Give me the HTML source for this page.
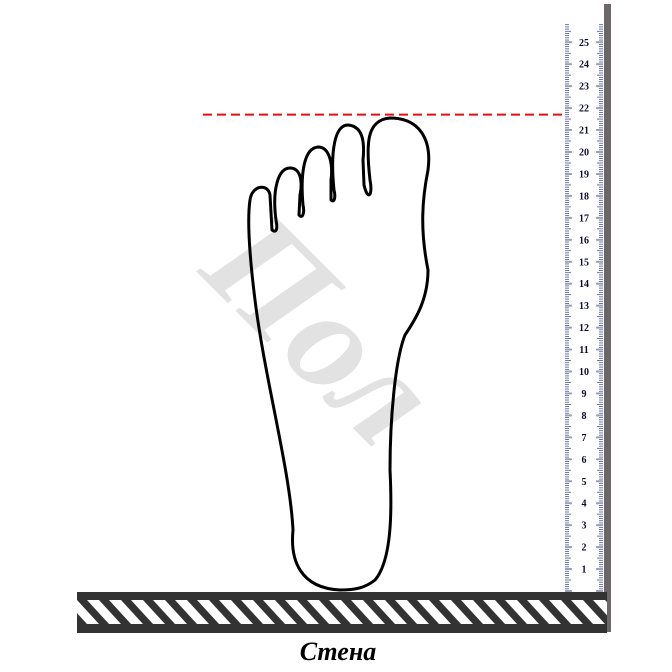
<!DOCTYPE html>
<html><head><meta charset="utf-8"><style>
html,body{margin:0;padding:0;background:#fff;width:672px;height:672px;overflow:hidden}
svg{display:block}
</style></head><body>
<svg id="chart" width="672" height="672" viewBox="0 0 672 672">
  <text x="305" y="370" transform="rotate(45 305 345)" text-anchor="middle" font-family="'Liberation Serif',serif" font-style="italic" font-weight="bold" font-size="145" fill="#e2e2e2">Пол</text>
  <rect x="604" y="4" width="7" height="628" fill="#6b6668"/>
  <g id="ruler"></g>
  <line id="redline" x1="203" x2="563" stroke="#e01010" stroke-width="2" stroke-dasharray="9,5"/>
  <path d="M340,590 C300,588 290,560 293,530 C290,470 265,380 255,300 C250,260 247,220 250,200 C252,185 268,183 270,195 L272,230 C276,233 278,230 276,220 C272,190 278,168 290,168 C300,168 303,180 300,195 L299,215 C302,219 305,214 303,205 C300,170 305,148 318,147 C330,147 333,165 331,180 L331,200 C334,203 336,198 334,190 C330,150 335,125 348,125 C362,126 365,140 363,160 L364,185 C368,202 373,195 370,180 C366,145 366,120 390,118 C420,118 432,140 428,170 C422,200 420,230 428,270 C428,300 415,320 405,335 C395,360 390,420 390,470 C392,510 392,560 375,580 C365,588 355,590 340,590 Z" fill="none" stroke="#000" stroke-width="3" stroke-linejoin="round"/>
  <defs><pattern id="hatch" width="22" height="24" patternUnits="userSpaceOnUse" patternTransform="translate(77,600)">
    <rect width="22" height="24" fill="#fff"/>
    <path d="M0,0 L10,0 L32,24 L22,24 Z M-22,0 L-12,0 L10,24 L0,24 Z" fill="#333"/>
  </pattern></defs>
  <g>
    <rect x="77" y="592" width="530" height="8" fill="#333"/>
    <rect x="77" y="600" width="530" height="24" fill="url(#hatch)"/>
    <rect x="77" y="624" width="530" height="9" fill="#333"/>
  </g>
  <text x="338" y="660" text-anchor="middle" font-family="'Liberation Serif',serif" font-style="italic" font-weight="bold" font-size="26" fill="#000">Стена</text>
</svg>
<script>
const cmLabels=[1,2,3,4,5,6,7,8,9,10,11,12,13,14,15,16,17,18,19,20,21,22,23,24,25];
const footLength=[21.7];
const y0=591, pxPerCm=21.95;
const yScale=v=>y0-v*pxPerCm;
const ns="http://www.w3.org/2000/svg";
const g=document.getElementById('ruler');
for(let mm=0;mm<=258;mm++){
  const y=yScale(mm/10);
  const len=mm%10===0?7:(mm%5===0?6:4);
  [[565,565+len],[603-len,603]].forEach(([a,b])=>{
    const l=document.createElementNS(ns,'line');
    l.setAttribute('x1',a);l.setAttribute('x2',b);l.setAttribute('y1',y);l.setAttribute('y2',y);
    l.setAttribute('stroke',mm%10===0?'#9aa0bb':'#4a5590');l.setAttribute('stroke-width',mm%10===0?2:0.8);
    
    
    g.appendChild(l);
  });
}
cmLabels.forEach(c=>{
  const t=document.createElementNS(ns,'text');
  t.setAttribute('x',584);t.setAttribute('y',yScale(c)+3.5);
  t.setAttribute('text-anchor','middle');t.setAttribute('font-family','Liberation Serif, serif');
  t.setAttribute('font-weight','bold');t.setAttribute('font-size','10');t.setAttribute('fill','#0c0c30');
  t.textContent=c;
  
  
  g.appendChild(t);
});
const rl=document.getElementById('redline');
rl.setAttribute('y1',yScale(footLength[0]));rl.setAttribute('y2',yScale(footLength[0]));
</script>
</body></html>
